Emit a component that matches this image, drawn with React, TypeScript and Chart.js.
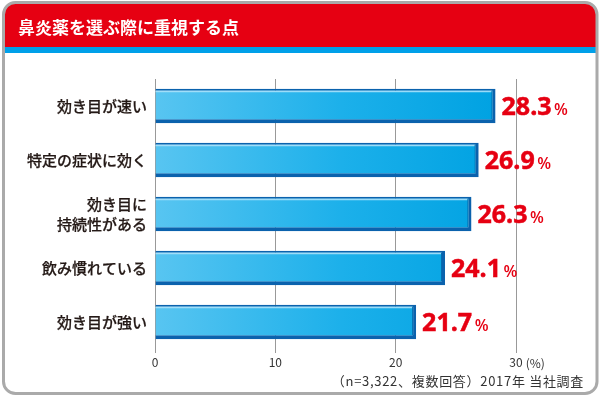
import React, { useEffect, useRef } from 'react';
import { Chart, registerables } from 'chart.js';

Chart.register(...registerables);

const categories: (string | string[])[] = [
  '効き目が速い',
  '特定の症状に効く',
  ['効き目に', '持続性がある'],
  '飲み慣れている',
  '効き目が強い',
];
const values: number[] = [28.3, 26.9, 26.3, 24.1, 21.7];
const xMin = 0;
const xMax = 30;
const xStep = 10;
const axisUnit = '(%)';
const valueSuffix = '%';
const titleText = '鼻炎薬を選ぶ際に重視する点';
const noteText = '（n=3,322、複数回答）2017年 当社調査';

const JP = '"Noto Sans CJK JP", "Noto Sans", sans-serif';
const NUM = '"Open Sans", "Noto Sans", sans-serif';
const RED = '#e60012';
const BLUE_STRIPE = '#00a0e9';
const BAR_BORDER = '#0b62ad';
const TICK_COLOR = '#333333';
const LABEL_COLOR = '#231815';

const framePlugin = {
  id: 'frame',
  beforeDraw(chart: any) {
    const { ctx, width, height } = chart;
    ctx.save();
    ctx.fillStyle = '#ffffff';
    ctx.fillRect(0, 0, width, height);
    const x0 = 3.5, y0 = 2.5, x1 = 597, y1 = 393.5, r = 12;
    const path = () => {
      ctx.beginPath();
      ctx.roundRect(x0, y0, x1 - x0, y1 - y0, r);
    };
    ctx.save();
    path();
    ctx.clip();
    ctx.fillStyle = RED;
    ctx.fillRect(0, 0, width, 47);
    ctx.fillStyle = BLUE_STRIPE;
    ctx.fillRect(0, 47, width, 6);
    ctx.restore();
    path();
    ctx.lineWidth = 3;
    ctx.strokeStyle = '#aaaaaa';
    ctx.stroke();
    ctx.fillStyle = '#ffffff';
    ctx.font = `bold 17px ${JP}`;
    ctx.textBaseline = 'middle';
    ctx.textAlign = 'left';
    ctx.fillText(titleText, 18, 27.5);
    ctx.fillStyle = TICK_COLOR;
    ctx.font = `13px ${JP}`;
    ctx.textAlign = 'right';
    (ctx as any).letterSpacing = '0.7px';
    ctx.fillText(noteText, 584, 381);
    (ctx as any).letterSpacing = '0px';
    ctx.restore();
  },
};

const barDecorPlugin = {
  id: 'barDecor',
  afterDatasetsDraw(chart: any) {
    const { ctx } = chart;
    const meta = chart.getDatasetMeta(0);
    ctx.save();
    meta.data.forEach((bar: any, i: number) => {
      const { x, y, base, height } = bar.getProps(['x', 'y', 'base', 'height'], true);
      const top = y - height / 2;
      ctx.strokeStyle = 'rgba(170,225,250,0.9)';
      ctx.lineWidth = 1.5;
      ctx.beginPath();
      ctx.moveTo(base, top + 2.75);
      ctx.lineTo(x - 4, top + 2.75);
      ctx.stroke();
      ctx.strokeStyle = 'rgba(0,70,140,0.6)';
      ctx.lineWidth = 1;
      ctx.beginPath();
      ctx.moveTo(x - 3.5, top + 2);
      ctx.lineTo(x - 3.5, y + height / 2 - 4);
      ctx.stroke();

      const num = values[i].toFixed(1);
      ctx.fillStyle = RED;
      ctx.strokeStyle = RED;
      ctx.lineWidth = 0.5;
      ctx.textBaseline = 'alphabetic';
      ctx.textAlign = 'left';
      ctx.font = `bold 25px ${NUM}`;
      const tx = x + 6;
      const by = y + 9;
      ctx.fillText(num, tx, by);
      ctx.strokeText(num, tx, by);
      const w = ctx.measureText(num).width;
      ctx.font = `600 16px ${NUM}`;
      ctx.fillText(valueSuffix, tx + w + 2.5, by);
    });
    ctx.restore();
  },
};

const unitPlugin = {
  id: 'unit',
  afterDraw(chart: any) {
    const { ctx } = chart;
    const xs = chart.scales.x;
    const px = xs.getPixelForValue(xMax);
    ctx.save();
    ctx.font = `12px ${JP}`;
    const w = ctx.measureText(String(xMax)).width;
    ctx.fillStyle = TICK_COLOR;
    ctx.textAlign = 'left';
    ctx.textBaseline = 'middle';
    ctx.fillText(axisUnit, px + w / 2 + 3, chart.chartArea.bottom + 4 + 2 + 8);
    ctx.restore();
  },
};

export default function App() {
  const ref = useRef<HTMLCanvasElement>(null);
  useEffect(() => {
    if (!ref.current) return;
    const chart = new Chart(ref.current, {
      type: 'bar',
      data: {
        labels: categories as any,
        datasets: [
          {
            data: values,
            backgroundColor: (c: any) => {
              const a = c.chart.chartArea;
              if (!a) return '#29b6ec';
              const g = c.chart.ctx.createLinearGradient(a.left, 0, a.left + 340, 0);
              g.addColorStop(0, '#58c5f1');
              g.addColorStop(0.55, '#1cb0ea');
              g.addColorStop(1, '#00a2e2');
              return g;
            },
            borderColor: BAR_BORDER,
            borderWidth: { top: 2, right: 3, bottom: 4, left: 0 } as any,
            borderSkipped: false,
            barPercentage: 0.64,
            categoryPercentage: 1,
          },
        ],
      },
      options: {
        indexAxis: 'y',
        animation: false,
        responsive: false,
        events: [],
        layout: { padding: { left: 0, right: 84, top: 79, bottom: 30 } },
        plugins: {
          legend: { display: false },
          tooltip: { enabled: false },
        },
        scales: {
          x: {
            type: 'linear',
            min: xMin,
            max: xMax,
            ticks: {
              stepSize: xStep,
              color: TICK_COLOR,
              font: { family: JP, size: 12 },
              padding: 2,
            },
            grid: {
              color: '#999999',
              lineWidth: 1,
              drawTicks: true,
              tickLength: 4,
            },
            border: { display: false },
            afterFit(scale: any) {
              scale.height = 20;
            },
          },
          y: {
            type: 'category',
            ticks: {
              color: LABEL_COLOR,
              textStrokeColor: LABEL_COLOR,
              textStrokeWidth: 0.25,
              font: { family: JP, size: 15, weight: '500', lineHeight: 1.35 },
              padding: 8,
            },
            grid: { display: false, drawTicks: false },
            border: { display: false },
            afterFit(scale: any) {
              scale.width = 155;
            },
          },
        },
      } as any,
      plugins: [framePlugin, barDecorPlugin, unitPlugin],
    });
    return () => chart.destroy();
  }, []);

  return (
    <div style={{ position: 'fixed', left: 0, top: 0, width: 600, height: 399, background: '#fff' }}>
      <canvas ref={ref} width={600} height={399} style={{ width: 600, height: 399, display: 'block' }} />
    </div>
  );
}
